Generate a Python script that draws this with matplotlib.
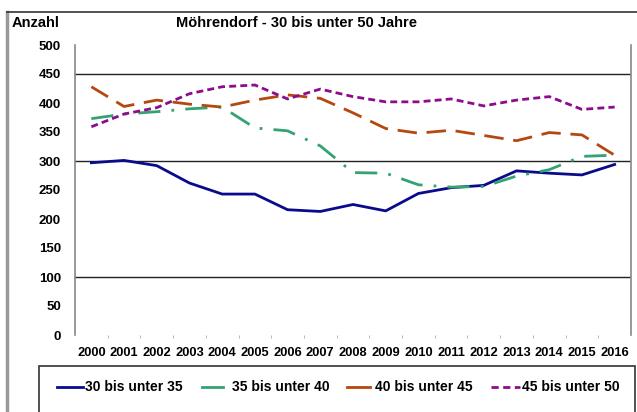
import matplotlib
matplotlib.use("Agg")
import matplotlib.pyplot as plt
from matplotlib.lines import Line2D
from matplotlib.patches import Rectangle

plt.rcParams['font.family'] = ['Liberation Sans', 'DejaVu Sans']
plt.rcParams['font.weight'] = 'bold'

years = [str(y) for y in range(2000, 2017)]
labels = ['30 bis unter 35', '35 bis unter 40', '40 bis unter 45', '45 bis unter 50']
s30_35 = [297, 301, 292, 262, 243, 243, 216, 213, 225, 214, 244, 254, 258, 283, 279, 276, 294]
s35_40 = [373, 381, 385, 390, 393, 357, 352, 326, 280, 279, 259, 255, 256, 274, 285, 308, 310]
s40_45 = [428, 394, 405, 398, 393, 405, 414, 408, 383, 356, 348, 353, 344, 335, 349, 345, 310]
s45_50 = [359, 381, 392, 416, 428, 431, 407, 424, 411, 402, 402, 407, 395, 405, 411, 389, 393]
gridvals = [450, 300, 100]

colors = ['#0a0a8c', '#34a273', '#b5480f', '#8e0b8e']
styles = ['-', (0, (8, 4, 1, 4)), (0, (7, 3.5)), (0, (2.5, 1.5))]
legend_styles = ['-', '-', '-', (0, (2.6, 1.6))]

W, H = 637, 412
fig = plt.figure(figsize=(W / 100, H / 100), dpi=100)
ax = fig.add_axes([75 / W, 1 - 335 / H, (631 - 75) / W, (335 - 45) / H])

x = list(range(len(years)))
for vals, c, ls, lab in zip([s30_35, s35_40, s40_45, s45_50], colors, styles, labels):
    ax.plot(x, vals, color=c, linestyle=ls, lw=2.0, label=lab, zorder=3)

for g in gridvals:
    ax.axhline(g, color='#222222', lw=1.0, zorder=1)

ax.set_xlim(-0.5, len(years) - 0.5)
ax.set_ylim(0, 500)
ax.set_yticks(range(0, 501, 50))
ax.set_xticks(x)
ax.set_xticklabels(years)
ax.set_xticks([i + 0.5 for i in x[:-1]], minor=True)
ax.tick_params(axis='y', length=0, pad=10, labelsize=9.5)
ax.tick_params(axis='x', which='major', length=0, pad=9, labelsize=9.3)
ax.tick_params(axis='x', which='minor', length=2.5, color='#aaaaaa', direction='out')
for lbl in ax.get_xticklabels() + ax.get_yticklabels():
    lbl.set_fontweight('bold')
ax.spines['top'].set_visible(False)
ax.spines['bottom'].set_visible(False)
ax.spines['left'].set_color('#888888')
ax.spines['right'].set_color('#888888')
ax.spines['left'].set_linewidth(1.2)
ax.spines['right'].set_linewidth(1.2)

fig.text(12 / W, 1 - 23 / H, 'Anzahl', fontsize=10.5, fontweight='bold', va='center')
fig.text(296 / W, 1 - 23 / H, 'Möhrendorf - 30 bis unter 50 Jahre', fontsize=10.5,
         fontweight='bold', ha='center', va='center')

# outer chart frame (left and top edges)
fig.add_artist(Line2D([7 / W, 7 / W], [0, 1 - 12 / H], color='#999999', lw=2.5))
fig.add_artist(Line2D([7 / W, 1], [1 - 12 / H, 1 - 12 / H], color='#333333', lw=1.2))

# legend box with manually placed entries
fig.add_artist(Rectangle((39 / W, -0.01), (635 - 39) / W, 1 - 366 / H + 0.01,
                         transform=fig.transFigure, fill=False, ec='#333333', lw=1.2))
handle_x = [(57, 83), (202, 223), (347, 370), (491, 520)]
text_x = [85, 232, 375, 522]
ly = 1 - 387 / H
for (x0, x1), tx, c, ls, lab in zip(handle_x, text_x, colors, legend_styles, labels):
    fig.add_artist(Line2D([x0 / W, x1 / W], [ly, ly], color=c, linestyle=ls, lw=2.0))
    fig.text(tx / W, ly, lab, fontsize=10, fontweight='bold', va='center')

fig.savefig('out.png', dpi=100)
